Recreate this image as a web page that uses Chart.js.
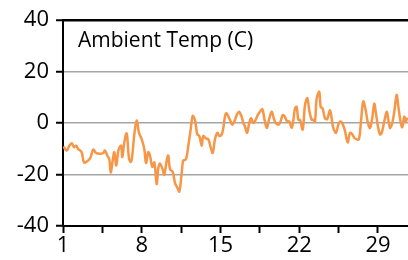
<!DOCTYPE html>
<html>
<head>
<meta charset="utf-8">
<script src="https://cdn.jsdelivr.net/npm/chart.js@4"></script>
<style>
  html, body { margin: 0; padding: 0; background: #fff; }
  #wrap { width: 408px; height: 260px; }
</style>
</head>
<body>
<div id="wrap"><canvas id="AmbientTemp"></canvas></div>
<script>
const chartTitle = 'Ambient Temp (C)';
const xLabelDays = [1, 8, 15, 22, 29];
const xMinorDays = [4.5, 11.5, 18.5, 25.5];
const yTicks = [-40, -20, 0, 20, 40];

// readings: day of month and temperature
const days = [
  1.03, 1.33, 1.56, 1.77, 1.98, 2.16, 2.36, 2.66, 2.87, 3.25, 3.46, 3.69, 3.93, 4.29, 4.58, 4.73,
  4.94, 5.12, 5.24, 5.42, 5.56, 5.74, 5.93, 6.16, 6.27, 6.45, 6.66, 6.87, 7.04, 7.16, 7.34, 7.55,
  7.76, 8.0, 8.23, 8.38, 8.58, 8.73, 8.94, 9.12, 9.33, 9.47, 9.62, 9.83, 10.0, 10.22, 10.36, 10.51,
  10.75, 10.96, 11.16, 11.34, 11.55, 11.69, 11.93, 12.14, 12.35, 12.53, 12.73, 12.94, 13.12, 13.33, 13.47, 13.71,
  13.92, 14.13, 14.31, 14.51, 14.72, 14.89, 15.11, 15.25, 15.49, 15.84, 16.05, 16.23, 16.44, 16.64, 16.88, 17.03,
  17.18, 17.36, 17.53, 17.71, 17.92, 18.13, 18.31, 18.51, 18.72, 18.89, 19.11, 19.31, 19.55, 19.73, 19.91, 20.14,
  20.29, 20.53, 20.73, 20.88, 21.12, 21.33, 21.47, 21.62, 21.77, 21.92, 22.07, 22.31, 22.51, 22.72, 22.89, 23.11,
  23.25, 23.4, 23.55, 23.78, 23.91, 24.08, 24.29, 24.49, 24.73, 24.88, 25.03, 25.27, 25.47, 25.62, 25.83, 26.07,
  26.31, 26.51, 26.72, 26.89, 27.11, 27.31, 27.49, 27.69, 27.91, 28.08, 28.29, 28.49, 28.67, 28.8, 28.97, 29.18,
  29.33, 29.56, 29.77, 29.92, 30.07, 30.27, 30.45, 30.66, 30.8, 30.98, 31.16, 31.34, 31.46, 31.6
];
const temps = [
  -9.1, -10.7, -8.8, -7.8, -9.4, -8.8, -10.1, -11.3, -15.3, -14.5, -13.2, -10.3, -11.6, -11.9, -11.6, -10.7,
  -12.6, -14.1, -19.2, -14.5, -11.3, -16.5, -10.5, -8.8, -13.2, -7.5, -4.0, -13.8, -15.1, -12.6, -4.4, 1.0,
  -3.8, -6.3, -10.1, -15.5, -11.3, -12.6, -17.0, -15.3, -23.7, -17.6, -15.7, -17.6, -20.1, -14.5, -12.6, -17.9,
  -18.9, -23.3, -25.1, -26.6, -19.5, -14.5, -14.1, -8.8, -2.5, 2.8, 1.2, -4.4, -5.0, -8.8, -5.0, -6.0,
  -6.3, -9.4, -11.6, -6.3, -3.8, -5.0, -4.4, -1.9, 3.8, 1.3, -0.6, 0.6, 3.1, 4.4, 2.5, 0,
  -1.3, -3.8, -0.6, 1.9, 0, 1.3, 3.1, 4.4, 5.4, 1.9, -1.9, 1.3, 4.4, 1.9, 0, -0.6,
  0, 3.1, 2.5, 0.9, 0.6, -1.9, 0.9, 5.7, 6.3, 1.3, 1.3, -2.5, 6.9, 9.7, 5.0, 1.3,
  1.3, 0.6, 9.4, 12.2, 6.3, 5.7, 1.9, 1.6, 5.0, 1.9, -1.9, -3.8, -0.6, 0.6, 0, -3.1,
  -7.5, -3.8, -4.4, -5.7, -6.3, -6.3, 0.6, 8.4, 5.0, 0.6, -1.9, 1.9, 7.5, 4.4, -0.6, -4.4,
  -3.8, 0.6, 4.4, 1.3, -1.9, 0, 4.4, 10.9, 6.9, 1.3, -1.6, 2.5, 0.6, 2.1
];

const labelFont = { family: '"Open Sans"', size: 22 };

// title sits inside the plot area, top left
const innerTitle = {
  id: 'innerTitle',
  afterDraw(chart) {
    const c = chart.ctx;
    c.save();
    c.font = '21px "Open Sans"';
    c.fillStyle = '#000';
    c.textBaseline = 'alphabetic';
    c.fillText(chartTitle, chart.chartArea.left + 15, chart.chartArea.top + 27);
    c.restore();
  }
};

const ctx = document.getElementById('AmbientTemp');
new Chart(ctx, {
  type: 'line',
  data: {
    datasets: [{
      label: chartTitle,
      data: days.map((d, i) => ({ x: d, y: temps[i] })),
      borderColor: '#f79646',
      borderWidth: 2.5,
      pointRadius: 0,
      tension: 0.35,
      fill: false
    }]
  },
  options: {
    responsive: true,
    maintainAspectRatio: false,
    animation: false,
    layout: { padding: { top: 14, left: 0, right: 0, bottom: 0 } },
    plugins: { legend: { display: false }, tooltip: { enabled: false } },
    scales: {
      x: {
        type: 'linear',
        min: 1,
        max: 31.67,
        afterBuildTicks: s => {
          s.ticks = [...xLabelDays, ...xMinorDays].sort((a, b) => a - b).map(v => ({ value: v }));
        },
        ticks: {
          callback: v => xLabelDays.includes(v) ? String(v) : '',
          autoSkip: false,
          maxRotation: 0,
          font: labelFont,
          color: '#000',
          padding: 0
        },
        grid: { drawOnChartArea: false, tickLength: 7, tickColor: '#000', tickWidth: 2 },
        border: { display: true, color: '#000', width: 2 },
        afterFit: s => { s.height = 34; }
      },
      y: {
        min: -40,
        max: 40,
        afterBuildTicks: s => { s.ticks = yTicks.map(v => ({ value: v })); },
        ticks: { font: labelFont, color: '#000', padding: 7 },
        grid: {
          color: c => c.tick && c.tick.value === 40 ? '#000' : '#a6a6a6',
          lineWidth: c => c.tick && c.tick.value === 40 ? 2.5 : 1.5,
          tickColor: '#000',
          tickWidth: 2,
          tickLength: 7
        },
        border: { color: '#000', width: 2 },
        afterFit: s => { s.width = 63; }
      }
    }
  },
  plugins: [innerTitle]
});
</script>
</body>
</html>
